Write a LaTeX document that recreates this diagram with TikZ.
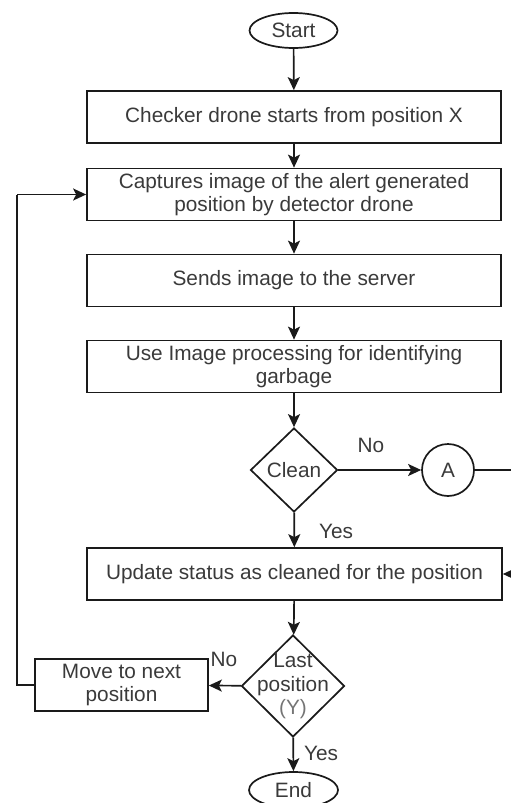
\documentclass[tikz,border=0pt]{standalone}
\usepackage{fontspec}
\setmainfont{Liberation Sans}
\usetikzlibrary{shapes.geometric,arrows.meta}
\definecolor{ink}{HTML}{1A1A1A}
\definecolor{txt}{HTML}{3A3A3A}
\tikzset{
  every node/.style={font=\fontsize{20.8}{23.5}\selectfont, text=txt},
  proc/.style={draw=ink, line width=1.7pt, minimum width=414pt, minimum height=52pt,
    align=center, inner sep=0pt},
  term/.style={ellipse, draw=ink, line width=1.7pt, minimum width=88pt,
    minimum height=35pt, inner sep=0pt},
  decision/.style={diamond, draw=ink, line width=1.7pt, inner sep=0pt},
  connector/.style={circle, draw=ink, line width=1.7pt, minimum size=52pt, inner sep=0pt},
  flow/.style={draw=ink, line width=1.7pt,
    -{Stealth[length=13pt, width=12pt, inset=3pt]}},
  plain/.style={draw=ink, line width=1.7pt},
  lbl/.style={inner sep=0pt}
}
\begin{document}
\begin{tikzpicture}[x=1pt, y=-1pt]
  \useasboundingbox (0,0) rectangle (511,803);
  \clip (0,0) rectangle (511,803);

  % main column
  \node[term] (start) at (293.5,30.5) {Start};
  \node[proc] (s1) at (294,117) {Checker drone starts from position X};
  \node[proc] (s2) at (294,194.5) {Captures image of the alert generated\\position by detector drone};
  \node[proc] (s3) at (294,280.5) {Sends image to the server};
  \node[proc] (s4) at (294,366.5) {Use Image processing for identifying\\garbage};
  \node[decision, minimum width=87pt, minimum height=84pt] (clean) at (294,470) {};
  \node at (clean) {Clean};
  \node[connector] (a) at (448,470) {A};
  \node[proc, minimum width=415pt] (s5) at (294.5,574) {Update status as cleaned for the position};
  \node[decision, minimum width=103pt, minimum height=102pt] (last) at (293,686) {};
  \node[align=center, font=\fontsize{20.8}{23.5}\selectfont] at (last)
    {Last\\position\\\textcolor{txt!70}{(Y)}};
  \node[proc, minimum width=173pt] (move) at (121.5,685) {Move to next\\position};
  \node[term, minimum width=89pt, minimum height=36pt] (end) at (293.5,790) {End};

  % connectors
  \draw[flow] (start) -- (s1);
  \draw[flow] (s1) -- (s2);
  \draw[flow] (s2) -- (s3);
  \draw[flow] (s3) -- (s4);
  \draw[flow] (s4) -- (clean);
  \draw[flow] (clean) -- (a);
  \draw[flow] (clean) -- (s5);
  \draw[flow] (s5) -- (last);
  \draw[flow] (last) -- (move);
  \draw[flow] (last) -- (end);

  % return paths
  \coordinate (rtop) at (515,470);
  \coordinate (rbot) at (515,574);
  \draw[plain] (a) -- (rtop) -- (rbot);
  \draw[flow] (rbot) -- (s5.east);
  \coordinate (ltop) at (17,194.5);
  \coordinate (lbot) at (17,685);
  \draw[plain] (move.west) -- (lbot) -- (ltop);
  \draw[flow] (ltop) -- (s2.west);

  % branch labels
  \node[lbl] at (371,445) {No};
  \node[lbl] at (336,531) {Yes};
  \node[lbl] at (224,659) {No};
  \node[lbl] at (321,753) {Yes};
\end{tikzpicture}
\end{document}
